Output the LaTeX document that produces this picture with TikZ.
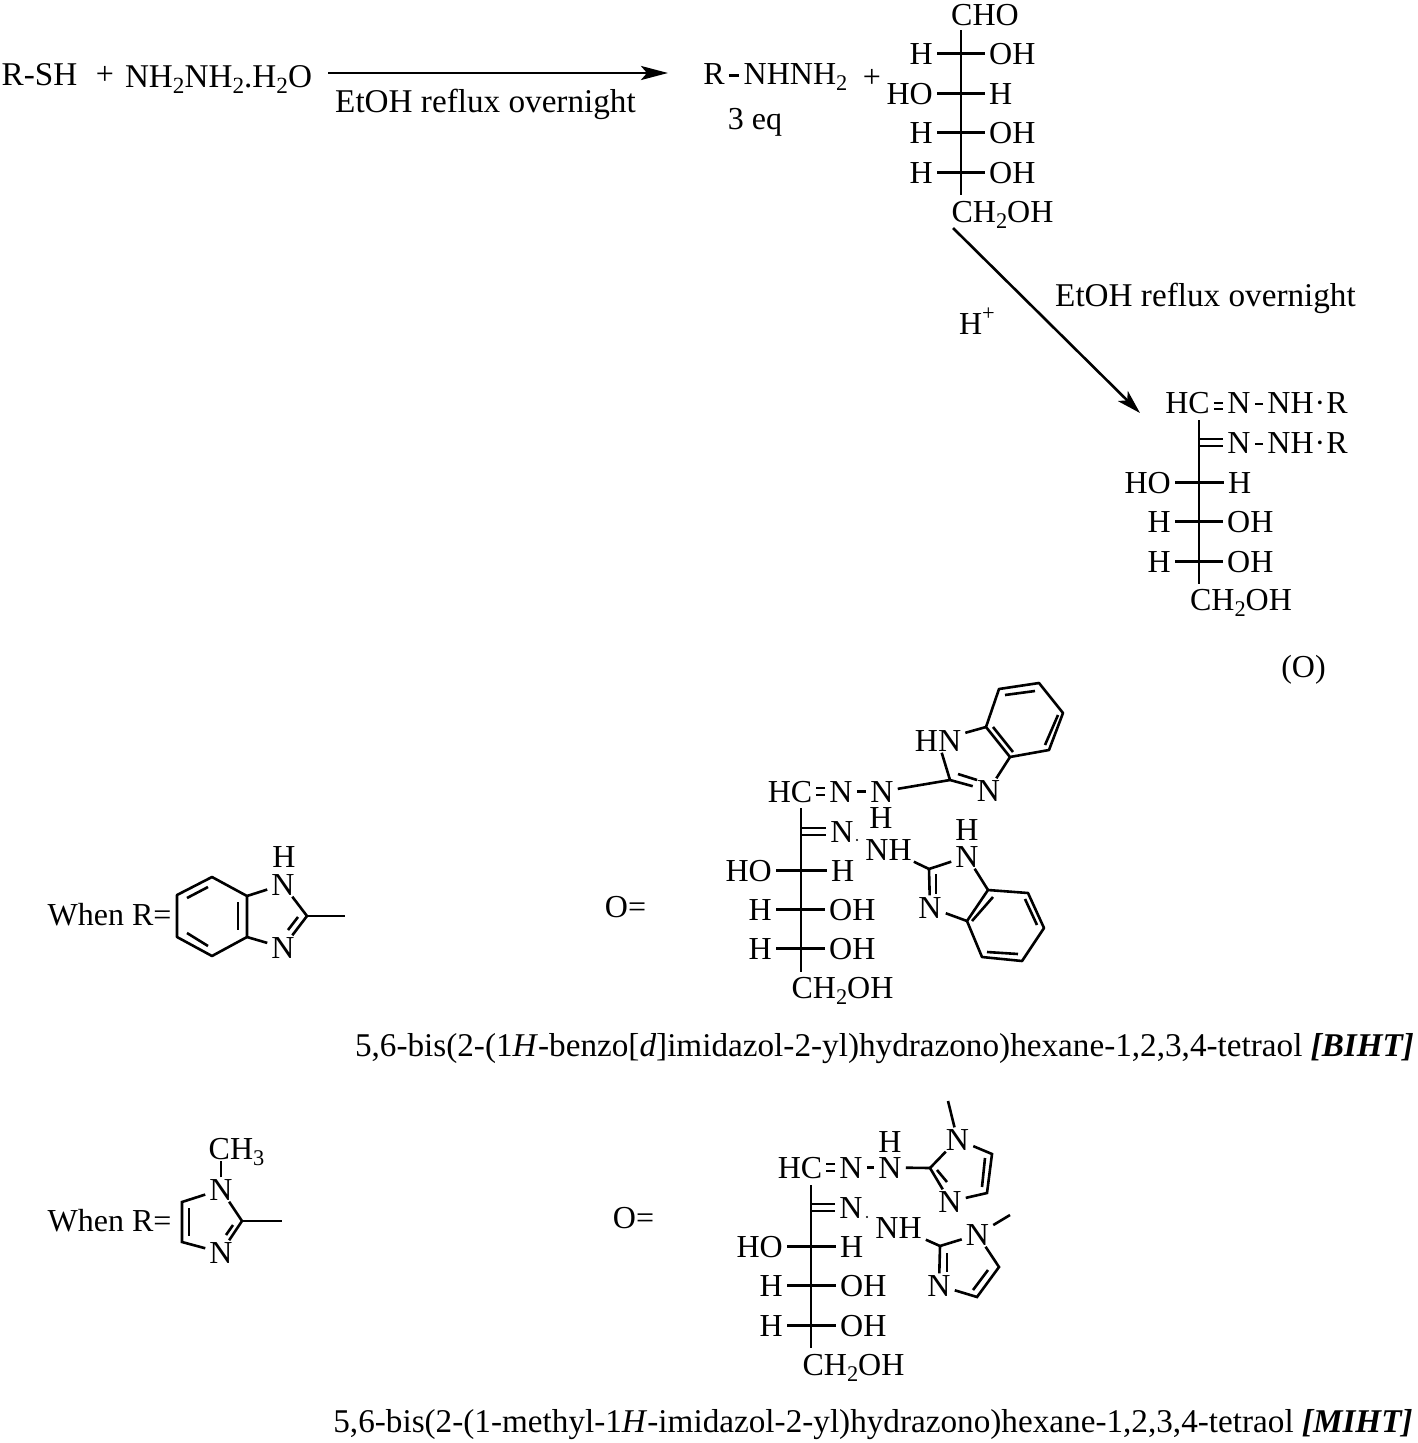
\documentclass[tikz,border=0pt]{standalone}
\usepackage{fontspec}
\setmainfont{Liberation Serif}
\usetikzlibrary{arrows.meta}
\newcommand\sbs[1]{\raisebox{-0.2em}{\fontsize{22.4}{24}\selectfont #1}}
\newcommand\sbw[1]{\raisebox{-0.2em}{\fontsize{23.2}{25}\selectfont #1}}
\tikzset{
  atom/.style={inner xsep=4pt,inner ysep=1.5pt,text height=21pt,text depth=0pt,anchor=base,font=\fontsize{32}{38}\selectfont},
  atomL/.style={atom,anchor=base east},
  atomR/.style={atom,anchor=base west},
  wide/.style={atom,font=\fontsize{33.2}{39}\selectfont},
  bond/.style={line width=2.6pt,line cap=butt,black},
  rxn/.style={line width=2.7pt,-{Stealth[length=27pt,width=14pt,inset=6pt]}},
  rxnb/.style={line width=2.6pt,-{Stealth[length=24pt,width=14pt,inset=6pt]}}
}
\newcommand\lab[4]{\node[atom] (#1) at (#2,#3) {#4};}
\newcommand\wlab[4]{\node[wide] (#1) at (#2,#3) {#4};}
\newcommand\frow[6]{\node[atomL] (#1l) at (#3,#2) {#4};\node[atomR] (#1r) at (#5,#2) {#6};\draw[bond] (#1l) -- (#1r);}
\newcommand\seg[4]{\draw[bond] (#1,#2) -- (#3,#4);}
\begin{document}
\begin{tikzpicture}[x=1pt,y=-1pt]
\useasboundingbox (0,0) rectangle (1418,1443);
% --- top line
\wlab{rsh}{39.5}{85}{R-SH}
\lab{pl}{105}{84}{+}
\wlab{hyd}{218.5}{87}{NH\sbw{2}NH\sbw{2}.H\sbw{2}O}
\coordinate (a1s) at (328,73); \coordinate (a1e) at (668,73);
\draw[rxn] (a1s) -- (a1e);
\wlab{cond1}{485.5}{112}{EtOH reflux overnight}
\lab{tr}{714}{84}{R}
\lab{tnh}{795.5}{84}{NHNH\sbs{2}}
\draw[bond] ([yshift=-2pt]tr.center -| tr.east) -- ([yshift=-2pt]tr.center -| tnh.west);
\lab{eq}{755}{129}{3 eq}
\lab{pl2}{872}{87}{+}
% --- glucose
\lab{cho}{985}{25}{CHO}
\frow{ga}{64}{937}{H}{985}{OH}
\frow{gb}{104}{937}{HO}{985}{H}
\frow{gc}{143}{937}{H}{985}{OH}
\frow{gd}{183}{937}{H}{985}{OH}
\lab{gch}{1002.5}{222}{CH\sbs{2}OH}
\coordinate (gt) at (961,30); \coordinate (gu) at (961,195);
\draw[bond] (gt) -- (gu);
% --- diagonal arrow
\coordinate (a2s) at (953,228); \coordinate (a2e) at (1140,413);
\draw[rxnb] (a2s) -- (a2e);
\lab{hp}{977}{334}{H\raisebox{0.42em}{\fontsize{22.4}{24}\selectfont +}}
\wlab{cond2}{1205.5}{306}{EtOH reflux overnight}
% --- product O
\lab{phc}{1187.5}{413}{HC}
\lab{pn}{1239}{413}{N}
\lab{pr}{1307.5}{413}{NH\kern1pt·\kern1ptR}
\draw[bond] ([yshift=-0.5pt]phc.east) -- ([yshift=-0.5pt]pn.west);
\draw[bond] ([yshift=-6.5pt]phc.east) -- ([yshift=-6.5pt]pn.west);
\draw[bond] ([yshift=-1.5pt]pn.east) -- ([yshift=-1.5pt]pr.center -| pr.west);
\lab{pn2}{1239}{453}{N}
\lab{pr2}{1307.5}{453}{NH\kern1pt·\kern1ptR}
\draw[bond] ([yshift=-1.5pt]pn2.east) -- ([yshift=-1.5pt]pr2.center -| pr2.west);
\coordinate (pt) at (1199,420); \coordinate (pu) at (1199,584);
\draw[bond] (pt) -- (pu);
\draw[bond] ([yshift=3.5pt]pn2.west -| pt) -- ([yshift=3.5pt]pn2.west);
\draw[bond] ([yshift=-3.5pt]pn2.west -| pt) -- ([yshift=-3.5pt]pn2.west);
\frow{pa}{493}{1175}{HO}{1224}{H}
\frow{pb}{532}{1175}{H}{1223}{OH}
\frow{pc}{572}{1175}{H}{1223}{OH}
\lab{pch}{1241}{610}{CH\sbs{2}OH}
\lab{ol}{1303.5}{677}{(O)}
% --- R = benzimidazole
\lab{wr1}{109.5}{925}{When R=}
\lab{bn1}{283}{895}{N}
\lab{bh1}{284}{867}{H}
\lab{bn3}{283}{958}{N}
\coordinate (r1) at (177,895); \coordinate (r2) at (212,877); \coordinate (r3) at (247,896);
\coordinate (r4) at (247,937); \coordinate (r5) at (212,956); \coordinate (r6) at (177,937);
\coordinate (rc) at (307,916); \coordinate (rm) at (345,916);
\draw[bond,line join=round] (r1) -- (r2) -- (r3) -- (r4) -- (r5) -- (r6) -- cycle;
\draw[bond] (r3) -- (bn1); \draw[bond] (bn1) -- (rc); \draw[bond] (rc) -- (rm);
\draw[bond] (rc) -- (bn3); \draw[bond] (r4) -- (bn3);
\seg{187}{898}{208}{887}\seg{187}{933}{208}{946}\seg{238}{902}{238}{930}\seg{298}{917}{288}{930}
\lab{oe1}{625.5}{917}{O=}
% --- BIHT
\lab{bhc}{790}{802}{HC}
\lab{bna}{841}{802}{N}
\lab{bnb}{882}{802}{N}
\lab{bhb}{881}{828}{H}
\draw[bond] ([yshift=3.5pt]bhc.east) -- ([yshift=3.5pt]bna.west);
\draw[bond] ([yshift=-3.5pt]bhc.east) -- ([yshift=-3.5pt]bna.west);
\draw[bond] (bna) -- (bnb);
\coordinate (bt) at (801,808); \coordinate (bu) at (801,972);
\draw[bond] (bt) -- (bu);
\lab{bnc}{842}{842}{N}
\draw[bond] ([yshift=3.5pt]bnc.west -| bt) -- ([yshift=3.5pt]bnc.west);
\draw[bond] ([yshift=-3.5pt]bnc.west -| bt) -- ([yshift=-3.5pt]bnc.west);
\fill (857,840) circle (1.2pt);
\lab{bnd}{888.5}{860}{NH}
\frow{ba}{881}{776}{HO}{827}{H}
\frow{bb}{920}{776}{H}{825}{OH}
\frow{bc}{959}{776}{H}{825}{OH}
\lab{bch}{842.5}{998}{CH\sbs{2}OH}
% upper benzimidazole
\lab{hn}{938}{751}{HN}
\lab{un}{988.5}{801}{N}
\coordinate (u2) at (950,780); \coordinate (ua) at (986,727); \coordinate (ub) at (999,689);
\coordinate (uc) at (1039,683); \coordinate (ud) at (1063,713); \coordinate (ue) at (1049,750); \coordinate (uf) at (1010,757);
\draw[bond,line join=round] (ua) -- (ub) -- (uc) -- (ud) -- (ue) -- (uf) -- cycle;
\draw[bond] (bnb) -- (u2); \draw[bond] (u2) -- (hn); \draw[bond] (hn) -- (ua); \draw[bond] (uf) -- (un); \draw[bond] (u2) -- (un);
\seg{958}{774}{977}{780}\seg{1005}{695}{1035}{691}\seg{1058}{715}{1045}{745}\seg{993}{727}{1013}{752}
% lower benzimidazole
\lab{ln}{967}{867}{N}
\lab{lh}{967}{840}{H}
\lab{lm}{930}{918}{N}
\coordinate (l2) at (929,869); \coordinate (la) at (988,890); \coordinate (lb) at (1028,893);
\coordinate (lc) at (1044,928); \coordinate (ld) at (1022,961); \coordinate (le) at (982,957); \coordinate (lf) at (967,921);
\draw[bond,line join=round] (la) -- (lb) -- (lc) -- (ld) -- (le) -- (lf) -- cycle;
\draw[bond] (bnd) -- (l2); \draw[bond] (l2) -- (ln); \draw[bond] (ln) -- (la); \draw[bond] (lf) -- (lm); \draw[bond] (l2) -- (lm);
\seg{936}{874}{936}{894}\seg{993}{897}{972}{921}\seg{1025}{899}{1037}{925}\seg{987}{952}{1018}{954}
\wlab{capa}{884.5}{1056}{5,6-bis(2-(1\textit{H}-benzo[\textit{d}]imidazol-2-yl)hydrazono)hexane-1,2,3,4-tetraol \textbf{\textit{[BIHT]}}}
% --- R = methylimidazole
\lab{wr2}{109.5}{1231}{When R=}
\lab{mme}{236.5}{1159}{CH\sbs{3}}
\lab{mn1}{221}{1200}{N}
\lab{mn3}{221}{1263}{N}
\coordinate (m4) at (182,1202); \coordinate (m5) at (182,1242); \coordinate (m2) at (242,1221); \coordinate (mm) at (282,1221);
\draw[bond] (mn1) -- (mme.south -| mn1);
\draw[bond] (mn1) -- (m4) -- (m5) -- (mn3);
\draw[bond] (mn1) -- (m2); \draw[bond] (m2) -- (mm); \draw[bond] (m2) -- (mn3);
\seg{189}{1208}{189}{1236}\seg{233}{1225}{226}{1235}
\lab{oe2}{633.5}{1228}{O=}
% --- MIHT
\lab{ihc}{800}{1178}{HC}
\lab{ina}{851}{1178}{N}
\lab{inb}{890}{1178}{N}
\lab{ihb}{890}{1152}{H}
\draw[bond] ([yshift=3.5pt]ihc.east) -- ([yshift=3.5pt]ina.west);
\draw[bond] ([yshift=-3.5pt]ihc.east) -- ([yshift=-3.5pt]ina.west);
\draw[bond] (ina) -- (inb);
\coordinate (it) at (811,1185); \coordinate (iu) at (811,1348);
\draw[bond] (it) -- (iu);
\lab{inc}{851}{1218}{N}
\draw[bond] ([yshift=3.5pt]inc.west -| it) -- ([yshift=3.5pt]inc.west);
\draw[bond] ([yshift=-3.5pt]inc.west -| it) -- ([yshift=-3.5pt]inc.west);
\fill (867,1217) circle (1.2pt);
\lab{ind}{898.5}{1238}{NH}
\frow{ia}{1257}{787}{HO}{836}{H}
\frow{ib}{1296}{787}{H}{836}{OH}
\frow{ic}{1336}{787}{H}{836}{OH}
\lab{ich}{853.5}{1375}{CH\sbs{2}OH}
% upper imidazole
\lab{vn}{957.5}{1150}{N}
\lab{vm}{950}{1212}{N}
\coordinate (v2) at (930,1168); \coordinate (vme) at (948,1101); \coordinate (va) at (992,1154); \coordinate (vb) at (987,1193);
\draw[bond] (inb) -- (v2); \draw[bond] (v2) -- (vn); \draw[bond] (vn) -- (vme);
\draw[bond] (vn) -- (va) -- (vb) -- (vm); \draw[bond] (v2) -- (vm);
\seg{985}{1158}{982}{1187}\seg{937}{1170}{947}{1182}
% lower imidazole
\lab{wn}{977.5}{1245}{N}
\lab{wm}{939}{1296}{N}
\coordinate (w2) at (940,1246); \coordinate (wme) at (1010,1215); \coordinate (wa) at (999,1267); \coordinate (wb) at (977,1297);
\draw[bond] (ind) -- (w2); \draw[bond] (w2) -- (wn); \draw[bond] (wn) -- (wme);
\draw[bond] (wn) -- (wa) -- (wb) -- (wm); \draw[bond] (w2) -- (wm);
\seg{947}{1253}{947}{1272}\seg{988}{1270}{973}{1290}
\wlab{capb}{873}{1432}{5,6-bis(2-(1-methyl-1\textit{H}-imidazol-2-yl)hydrazono)hexane-1,2,3,4-tetraol \textbf{\textit{[MIHT]}}}
\end{tikzpicture}
\end{document}
